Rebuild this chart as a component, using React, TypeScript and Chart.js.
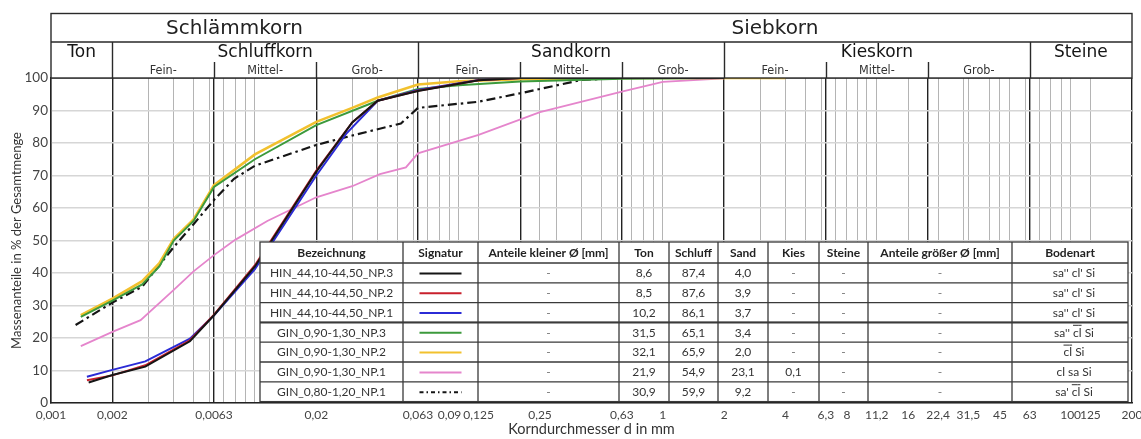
import React, { useEffect, useRef } from "react";
import { Chart, registerables } from "chart.js";

Chart.register(...registerables);

// ---------------- data ----------------
const SERIES_NAMES = [
  "HIN_44,10-44,50_NP.3",
  "HIN_44,10-44,50_NP.2",
  "HIN_44,10-44,50_NP.1",
  "GIN_0,90-1,30_NP.3",
  "GIN_0,90-1,30_NP.2",
  "GIN_0,90-1,30_NP.1",
  "GIN_0,80-1,20_NP.1",
];

const SIZES_HIN_NP3 = [0.00153, 0.002, 0.0029, 0.0048, 0.0063, 0.01, 0.02, 0.03, 0.04, 0.063, 0.125, 0.2, 2];
const PASS_HIN_NP3 = [6.3, 8.6, 11.2, 19, 27, 42, 71.2, 86.3, 93, 96, 99.3, 100, 100];

const SIZES_HIN_NP2 = [0.0015, 0.002, 0.0029, 0.0048, 0.0063, 0.01, 0.02, 0.03, 0.04, 0.063, 0.125, 0.2, 2];
const PASS_HIN_NP2 = [7, 8.5, 11.6, 19.3, 27.2, 42.4, 71.5, 86.3, 93, 96.1, 99.3, 100, 100];

const SIZES_HIN_NP1 = [0.0015, 0.002, 0.0029, 0.0048, 0.0063, 0.01, 0.02, 0.028, 0.04, 0.063, 0.125, 0.2, 2];
const PASS_HIN_NP1 = [8.1, 10.2, 12.8, 19.8, 27, 41.2, 70, 82.8, 93, 96.3, 99.4, 100, 100];

const SIZES_GIN_090_NP3 = [0.0014, 0.002, 0.0028, 0.0034, 0.004, 0.005, 0.0063, 0.01, 0.02, 0.04, 0.063, 0.1, 0.2, 0.63, 2];
const PASS_GIN_090_NP3 = [26.5, 31.5, 36.5, 42, 50, 56, 66.5, 75, 85.5, 93, 96.6, 97.8, 98.9, 99.8, 100];

const SIZES_GIN_090_NP2 = [0.0014, 0.002, 0.0028, 0.0034, 0.004, 0.005, 0.0063, 0.01, 0.02, 0.03, 0.04, 0.063, 0.1, 0.2, 0.63, 2, 4];
const PASS_GIN_090_NP2 = [27, 32.1, 37.5, 43, 50.5, 56.5, 67, 76.5, 86.5, 90.8, 94, 98, 99, 99.6, 100, 100, 100];

const SIZES_GIN_090_NP1 = [0.0014, 0.002, 0.00275, 0.004, 0.005, 0.0063, 0.008, 0.0115, 0.02, 0.03, 0.041, 0.055, 0.063, 0.125, 0.25, 0.63, 1, 2];
const PASS_GIN_090_NP1 = [17.5, 21.9, 25.5, 34.8, 40.5, 45.5, 50.2, 56, 63.3, 66.7, 70.4, 72.5, 76.8, 82.5, 89.5, 95.8, 98.8, 99.9];

const SIZES_GIN_080_NP1 = [0.00132, 0.002, 0.0028, 0.004, 0.005, 0.0063, 0.0079, 0.01, 0.02, 0.03, 0.052, 0.063, 0.125, 0.2, 0.4, 0.63];
const PASS_GIN_080_NP1 = [24, 30.9, 35.8, 48, 55, 62.5, 69, 73, 79.4, 82.3, 86, 90.8, 92.7, 95.3, 99.4, 100];

const ALL_SIZES = [SIZES_HIN_NP3, SIZES_HIN_NP2, SIZES_HIN_NP1, SIZES_GIN_090_NP3, SIZES_GIN_090_NP2, SIZES_GIN_090_NP1, SIZES_GIN_080_NP1];
const ALL_PASS = [PASS_HIN_NP3, PASS_HIN_NP2, PASS_HIN_NP1, PASS_GIN_090_NP3, PASS_GIN_090_NP2, PASS_GIN_090_NP1, PASS_GIN_080_NP1];

const TON_VALUES = ["8,6", "8,5", "10,2", "31,5", "32,1", "21,9", "30,9"];
const SCHLUFF_VALUES = ["87,4", "87,6", "86,1", "65,1", "65,9", "54,9", "59,9"];
const SAND_VALUES = ["4,0", "3,9", "3,7", "3,4", "2,0", "23,1", "9,2"];
const KIES_VALUES = ["-", "-", "-", "-", "-", "0,1", "-"];
const STEINE_VALUES = ["-", "-", "-", "-", "-", "-", "-"];
const SMALLER_VALUES = ["-", "-", "-", "-", "-", "-", "-"];
const LARGER_VALUES = ["-", "-", "-", "-", "-", "-", "-"];
const BODENART_VALUES = [
  "sa'' cl' Si",
  "sa'' cl' Si",
  "sa'' cl' Si",
  "sa'' c\u0305l\u0305 Si",
  "c\u0305l\u0305 Si",
  "cl sa Si",
  "sa' c\u0305l\u0305 Si",
];
const TABLE_HEADERS = [
  "Bezeichnung",
  "Signatur",
  "Anteile kleiner Ø [mm]",
  "Ton",
  "Schluff",
  "Sand",
  "Kies",
  "Steine",
  "Anteile größer Ø [mm]",
  "Bodenart",
];

const X_TICK_VALUES = [0.001, 0.002, 0.0063, 0.02, 0.063, 0.09, 0.125, 0.25, 0.63, 1, 2, 4, 6.3, 8, 11.2, 16, 22.4, 31.5, 45, 63, 100, 125, 200];
const X_TICK_LABELS = ["0,001", "0,002", "0,0063", "0,02", "0,063", "0,09", "0,125", "0,25", "0,63", "1", "2", "4", "6,3", "8", "11,2", "16", "22,4", "31,5", "45", "63", "100", "125", "200"];
const BOUNDARY_VALUES = [0.002, 0.0063, 0.02, 0.063, 0.2, 0.63, 2, 6.3, 20, 63, 200];

const HEADER_TOP_LABELS = ["Schlämmkorn", "Siebkorn"];
const HEADER_TOP_BOUNDS = [0.001, 0.063, 200];
const HEADER_MID_LABELS = ["Ton", "Schluffkorn", "Sandkorn", "Kieskorn", "Steine"];
const HEADER_MID_BOUNDS = [0.001, 0.002, 0.063, 2, 63, 200];
const SUB_LABELS = ["Fein-", "Mittel-", "Grob-"];
const SUB_GROUP_BOUNDS = [
  [0.002, 0.0063, 0.02, 0.063],
  [0.063, 0.2, 0.63, 2],
  [2, 6.3, 20, 63],
];

const X_TITLE = "Korndurchmesser d in mm";
const Y_TITLE = "Massenanteile in % der Gesamtmenge";

// ---------------- styles ----------------
const COLORS = ["#151515", "#c8202c", "#2b2bd6", "#3c9a3c", "#f2c12e", "#e585cc", "#151515"];
const WIDTHS = [2, 2, 2, 2, 2.6, 1.8, 2.2];
const DASHES: number[][] = [[], [], [], [], [], [], [9, 4, 2.5, 4]];

const near = (a: number, b: number) => Math.abs(Math.log10(a) - Math.log10(b)) < 1e-6;

function buildGridValues(): number[] {
  const vals: number[] = [];
  for (let k = -3; k <= 2; k++) {
    for (let n = 1; n <= 9; n++) {
      const v = parseFloat((n * Math.pow(10, k)).toPrecision(6));
      if (v <= 200.0001) vals.push(v);
    }
  }
  const extra = [...X_TICK_VALUES, ...BOUNDARY_VALUES];
  extra.forEach((v) => {
    if (!vals.some((w) => near(w, v))) vals.push(v);
  });
  return vals.sort((a, b) => a - b);
}
const GRID_VALUES = buildGridValues();

function labelFor(v: number): string {
  const i = X_TICK_VALUES.findIndex((t) => near(t, v));
  return i >= 0 ? X_TICK_LABELS[i] : "";
}
const isBoundary = (v: number) => BOUNDARY_VALUES.some((b) => near(b, v));

// draw text with characters carrying a combining overline
function drawRichText(ctx: CanvasRenderingContext2D, text: string, cx: number, cy: number, overlineOffset: number) {
  const chars: { c: string; o: boolean }[] = [];
  for (let i = 0; i < text.length; i++) {
    const c = text[i];
    if (c === "\u0305") {
      if (chars.length) chars[chars.length - 1].o = true;
      continue;
    }
    chars.push({ c, o: false });
  }
  const plain = chars.map((c) => c.c).join("");
  const total = ctx.measureText(plain).width;
  const x0 = cx - total / 2;
  ctx.textAlign = "left";
  ctx.fillText(plain, x0, cy);
  for (let i = 0; i < chars.length; i++) {
    if (!chars[i].o) continue;
    const a = ctx.measureText(plain.slice(0, i)).width;
    const b = ctx.measureText(plain.slice(0, i + 1)).width;
    ctx.fillRect(x0 + a, cy - overlineOffset, b - a, 1);
  }
}

const headerPlugin = {
  id: "soilHeader",
  afterDraw(chart: any) {
    const { ctx, chartArea } = chart;
    const x = chart.scales.x;
    const L = chartArea.left;
    const R = chartArea.right;
    const B = chartArea.top;
    const TOP = 13.5;
    const MID = 42;
    const SUB = 62;
    const px = (v: number) => x.getPixelForValue(v);
    ctx.save();
    ctx.fillStyle = "#ffffff";
    ctx.fillRect(L, TOP, R - L, B - TOP);
    ctx.strokeStyle = "#2a2a2a";
    ctx.lineWidth = 1.4;
    ctx.strokeRect(L, TOP, R - L, B - TOP);
    ctx.beginPath();
    ctx.moveTo(L, MID);
    ctx.lineTo(R, MID);
    for (let i = 1; i < HEADER_MID_BOUNDS.length - 1; i++) {
      const xx = Math.round(px(HEADER_MID_BOUNDS[i])) + 0.5;
      ctx.moveTo(xx, MID);
      ctx.lineTo(xx, B);
    }
    SUB_GROUP_BOUNDS.forEach((g) => {
      for (let i = 1; i < g.length - 1; i++) {
        const xx = Math.round(px(g[i])) + 0.5;
        ctx.moveTo(xx, SUB);
        ctx.lineTo(xx, B);
      }
    });
    ctx.stroke();

    ctx.fillStyle = "#222";
    ctx.textAlign = "center";
    ctx.textBaseline = "middle";
    ctx.font = '20px "DejaVu Sans"';
    for (let i = 0; i < HEADER_TOP_LABELS.length; i++) {
      const cx = (px(HEADER_TOP_BOUNDS[i]) + px(HEADER_TOP_BOUNDS[i + 1])) / 2;
      ctx.fillText(HEADER_TOP_LABELS[i], cx, 29);
    }
    ctx.fillStyle = "#151515";
    ctx.font = '17px "DejaVu Sans"';
    for (let i = 0; i < HEADER_MID_LABELS.length; i++) {
      const cx = (px(HEADER_MID_BOUNDS[i]) + px(HEADER_MID_BOUNDS[i + 1])) / 2;
      ctx.fillText(HEADER_MID_LABELS[i], cx, 53);
    }
    ctx.font = '12.5px "DejaVu Sans Condensed", "DejaVu Sans"';
    ctx.fillStyle = "#333";
    SUB_GROUP_BOUNDS.forEach((g) => {
      for (let i = 0; i < 3; i++) {
        const cx = (px(g[i]) + px(g[i + 1])) / 2;
        ctx.fillText(SUB_LABELS[i], cx, 71);
      }
    });
    ctx.restore();
  },
};

const TABLE_COLS = [260, 403, 478, 619, 669, 718, 768, 819, 868, 1012, 1128];
const TABLE_TOP = 242;
const TABLE_HEAD_H = 21;
const TABLE_ROW_H = 19.8;

const tablePlugin = {
  id: "soilTable",
  afterDraw(chart: any) {
    const { ctx } = chart;
    const left = TABLE_COLS[0];
    const right = TABLE_COLS[TABLE_COLS.length - 1];
    const nRows = SERIES_NAMES.length;
    const bottom = TABLE_TOP + TABLE_HEAD_H + TABLE_ROW_H * nRows;
    ctx.save();
    ctx.fillStyle = "#ffffff";
    ctx.fillRect(left, TABLE_TOP, right - left, bottom - TABLE_TOP);
    ctx.strokeStyle = "#3a3a3a";
    ctx.lineWidth = 1.3;
    ctx.strokeRect(left, TABLE_TOP, right - left, bottom - TABLE_TOP);
    ctx.beginPath();
    for (let i = 1; i < TABLE_COLS.length - 1; i++) {
      ctx.moveTo(TABLE_COLS[i], TABLE_TOP);
      ctx.lineTo(TABLE_COLS[i], bottom);
    }
    for (let r = 0; r < nRows; r++) {
      const yy = TABLE_TOP + TABLE_HEAD_H + r * TABLE_ROW_H;
      ctx.moveTo(left, yy);
      ctx.lineTo(right, yy);
    }
    ctx.stroke();
    // slightly heavier separator between HIN and GIN groups
    ctx.lineWidth = 2;
    ctx.beginPath();
    const sep = TABLE_TOP + TABLE_HEAD_H + 3 * TABLE_ROW_H;
    ctx.moveTo(left, sep);
    ctx.lineTo(right, sep);
    ctx.stroke();

    const cxOf = (c: number) => (TABLE_COLS[c] + TABLE_COLS[c + 1]) / 2;
    ctx.textAlign = "center";
    ctx.textBaseline = "middle";
    ctx.fillStyle = "#222";
    ctx.font = 'bold 12px "Lato"';
    TABLE_HEADERS.forEach((h, c) => ctx.fillText(h, cxOf(c), TABLE_TOP + TABLE_HEAD_H / 2 + 0.5));

    const cols = [SMALLER_VALUES, TON_VALUES, SCHLUFF_VALUES, SAND_VALUES, KIES_VALUES, STEINE_VALUES, LARGER_VALUES];
    for (let r = 0; r < nRows; r++) {
      const cy = TABLE_TOP + TABLE_HEAD_H + r * TABLE_ROW_H + TABLE_ROW_H / 2 + 0.5;
      ctx.font = '12px "Lato"';
      ctx.fillStyle = "#333";
      ctx.textAlign = "center";
      ctx.fillText(SERIES_NAMES[r], cxOf(0), cy);
      // signature
      ctx.save();
      ctx.strokeStyle = COLORS[r];
      ctx.lineWidth = 2;
      ctx.setLineDash(r === 6 ? [4, 3, 1.5, 3] : []);
      ctx.beginPath();
      ctx.moveTo(cxOf(1) - 21, cy);
      ctx.lineTo(cxOf(1) + 21, cy);
      ctx.stroke();
      ctx.restore();
      cols.forEach((arr, k) => {
        const v = arr[r];
        ctx.fillStyle = v === "-" ? "#777" : "#333";
        ctx.textAlign = "center";
        ctx.fillText(v, cxOf(k + 2), cy);
      });
      ctx.fillStyle = "#333";
      drawRichText(ctx, BODENART_VALUES[r], cxOf(9) + 4, cy, 8);
    }
    ctx.restore();
  },
};

export default function App() {
  const ref = useRef<HTMLCanvasElement>(null);
  useEffect(() => {
    document.body.style.margin = "0";
    const canvas = ref.current as HTMLCanvasElement;
    const datasets = SERIES_NAMES.map((name, i) => ({
      label: name,
      data: ALL_SIZES[i].map((s, j) => ({ x: s, y: ALL_PASS[i][j] })),
      borderColor: COLORS[i],
      backgroundColor: COLORS[i],
      borderWidth: WIDTHS[i],
      borderDash: DASHES[i],
      pointRadius: 0,
      tension: 0,
      fill: false,
    }));
    const chart = new Chart(canvas, {
      type: "line",
      data: { datasets },
      options: {
        animation: false,
        responsive: false,
        layout: { padding: { top: 78, right: 9, left: 0, bottom: 0 } },
        plugins: { legend: { display: false }, tooltip: { enabled: false } },
        scales: {
          x: {
            type: "logarithmic",
            min: 0.001,
            max: 200,
            afterBuildTicks: (s: any) => {
              s.ticks = GRID_VALUES.map((v) => ({ value: v }));
            },
            afterFit: (s: any) => {
              s.height = 36;
              s.paddingLeft = 0;
              s.paddingRight = 0;
            },
            ticks: {
              autoSkip: false,
              maxRotation: 0,
              minRotation: 0,
              padding: 5,
              color: "#444",
              font: { family: "Lato", size: 12 },
              callback: (v: any) => labelFor(Number(v)),
            },
            grid: {
              drawTicks: false,
              color: (c: any) => (c.tick && isBoundary(c.tick.value) ? "#222" : "#b4b4b4"),
              lineWidth: (c: any) => (c.tick && isBoundary(c.tick.value) ? 1.4 : 1),
            },
            border: { color: "#222", width: 1.5 },
            title: {
              display: true,
              text: X_TITLE,
              color: "#333",
              font: { family: "Lato", size: 14.5 },
              padding: { top: 0, bottom: 1 },
            },
          },
          y: {
            min: 0,
            max: 100,
            z: -1,
            afterFit: (s: any) => {
              s.width = 51;
            },
            ticks: {
              stepSize: 10,
              padding: 3,
              color: "#444",
              font: { family: "Lato", size: 13.5 },
            },
            grid: {
              drawTicks: false,
              color: (c: any) => (c.tick && c.tick.value === 100 ? "#222" : "#d6d6d6"),
              lineWidth: 1.4,
            },
            border: { color: "#222", width: 1.5 },
            title: {
              display: true,
              text: Y_TITLE,
              color: "#333",
              font: { family: "Lato", size: 13 },
              padding: { top: 9, bottom: 0 },
            },
          },
        },
      },
      plugins: [headerPlugin, tablePlugin],
    } as any);
    return () => chart.destroy();
  }, []);
  return (
    <div style={{ position: "absolute", left: 0, top: 0, width: 1141, height: 439 }}>
      <canvas ref={ref} width={1141} height={439} style={{ display: "block", width: 1141, height: 439 }} />
    </div>
  );
}
